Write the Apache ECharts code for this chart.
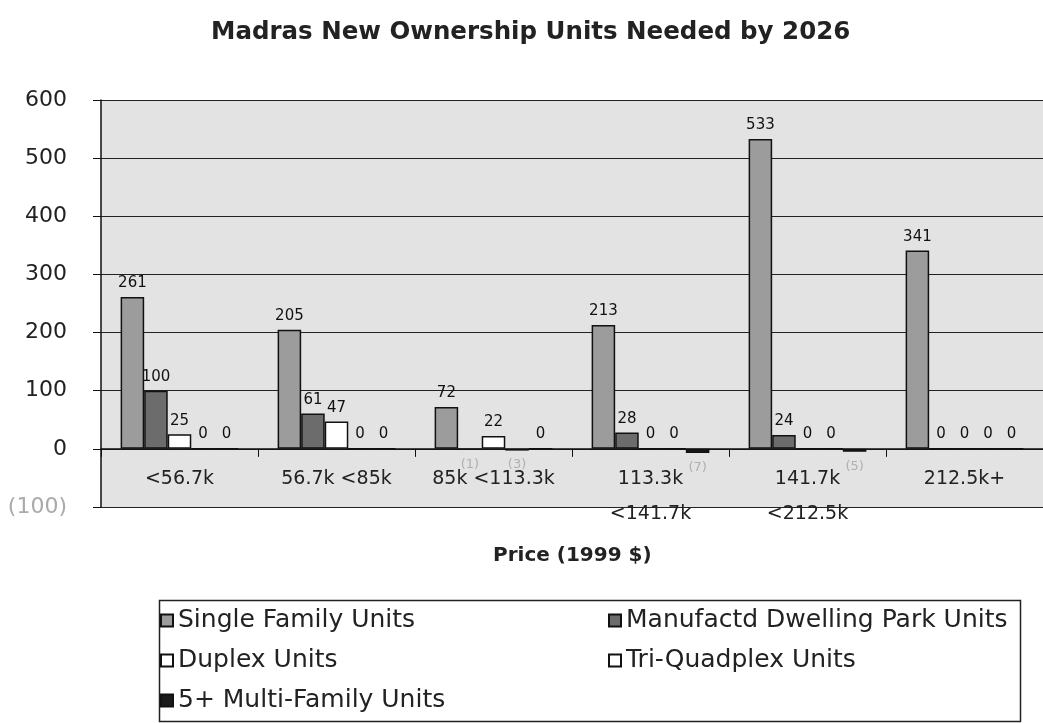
<!DOCTYPE html>
<html lang="en">
<head>
    <meta charset="UTF-8">
    <title>Madras New Ownership Units</title>
    <script src="https://cdn.jsdelivr.net/npm/echarts@6/dist/echarts.min.js"></script>
    <style>
        html, body { margin: 0; padding: 0; background: #fff; }
        #chart { width: 1043px; height: 723px; }
    </style>
</head>
<body>
    <div id="chart"></div>
    <script>
        // categories (price bands)
        var categories = ['<56.7k', '56.7k <85k', '85k <113.3k', '113.3k\n<141.7k', '141.7k\n<212.5k', '212.5k+'];
        // units by type
        var singleFamily = [261, 205, 72, 213, 533, 341];
        var manufactured = [100, 61, -1, 28, 24, 0];
        var duplex = [25, 47, 22, 0, 0, 0];
        var triQuad = [0, 0, -3, 0, 0, 0];
        var multiFamily = [0, 0, 0, -7, -5, 0];
        var yTicks = [-100, 0, 100, 200, 300, 400, 500, 600];

        var font = "'DejaVu Sans', sans-serif";

        // negative values get a faint label under the bar
        function toData(arr) {
            return arr.map(function (v) {
                if (v < 0) {
                    return {
                        value: v,
                        label: { position: 'bottom', color: '#b0b0b0', fontSize: 13, distance: 8 }
                    };
                }
                return v;
            });
        }

        function makeSeries(name, arr, color) {
            return {
                name: name,
                type: 'bar',
                data: toData(arr),
                barGap: '0%',
                barCategoryGap: '25%',
                itemStyle: { color: color, borderColor: '#111', borderWidth: 1.5 },
                label: {
                    show: true,
                    position: 'top',
                    distance: 6,
                    fontSize: 15,
                    fontFamily: font,
                    color: '#111',
                    formatter: function (p) {
                        return p.value < 0 ? '(' + (-p.value) + ')' : p.value;
                    }
                }
            };
        }

        var legendText = { fontSize: 25, fontFamily: font, color: '#222' };

        var chart = echarts.init(document.getElementById('chart'));
        var option = {
            backgroundColor: '#ffffff',
            animation: false,
            title: [{
                text: 'Madras New Ownership Units Needed by 2026',
                left: 206,
                top: 15,
                textStyle: { fontSize: 24.5, fontWeight: 'bold', fontFamily: font, color: '#222' }
            }, {
                text: 'Price (1999 $)',
                left: 488,
                top: 541,
                textStyle: { fontSize: 20, fontWeight: 'bold', fontFamily: font, color: '#222' }
            }],
            grid: {
                left: 101, top: 100, width: 951, height: 407,
                show: true, backgroundColor: '#e3e3e3', borderWidth: 0
            },
            legend: [{
                orient: 'vertical',
                left: 155, top: 603,
                itemGap: 15, itemWidth: 12, itemHeight: 12,
                icon: 'rect',
                data: ['Single Family Units', 'Duplex Units', '5+ Multi-Family Units'],
                textStyle: legendText
            }, {
                orient: 'vertical',
                left: 603, top: 603,
                itemGap: 15, itemWidth: 12, itemHeight: 12,
                icon: 'rect',
                data: ['Manufactd Dwelling Park Units', 'Tri-Quadplex Units'],
                textStyle: legendText
            }],
            graphic: [{
                type: 'rect',
                left: 157, top: 598,
                shape: { width: 861, height: 121 },
                style: { fill: 'none', stroke: '#222', lineWidth: 1.5 }
            }],
            xAxis: {
                type: 'category',
                data: categories,
                axisLine: { onZero: true, lineStyle: { color: '#111', width: 1.5 } },
                axisTick: { show: true, length: 8, lineStyle: { color: '#111' } },
                axisLabel: {
                    interval: 0, hideOverlap: false,
                    fontSize: 19, fontFamily: font, color: '#222', margin: -45, lineHeight: 35
                }
            },
            yAxis: {
                type: 'value',
                min: yTicks[0],
                max: yTicks[yTicks.length - 1],
                interval: 100,
                axisLine: { show: true, lineStyle: { color: '#111', width: 1.5 } },
                axisTick: { show: true, length: 8, lineStyle: { color: '#111' } },
                axisLabel: {
                    fontSize: 22, fontFamily: font, margin: 34,
                    color: function (v) { return v < 0 ? '#aaa' : '#222'; },
                    formatter: function (v) { return v < 0 ? '(' + (-v) + ')' : v; }
                },
                splitLine: { show: true, lineStyle: { color: '#222', width: 1.2 } }
            },
            series: [
                makeSeries('Single Family Units', singleFamily, '#9c9c9c'),
                makeSeries('Manufactd Dwelling Park Units', manufactured, '#6c6c6c'),
                makeSeries('Duplex Units', duplex, '#ffffff'),
                makeSeries('Tri-Quadplex Units', triQuad, '#ffffff'),
                makeSeries('5+ Multi-Family Units', multiFamily, '#1a1a1a')
            ]
        };
        chart.setOption(option);
    </script>
</body>
</html>
